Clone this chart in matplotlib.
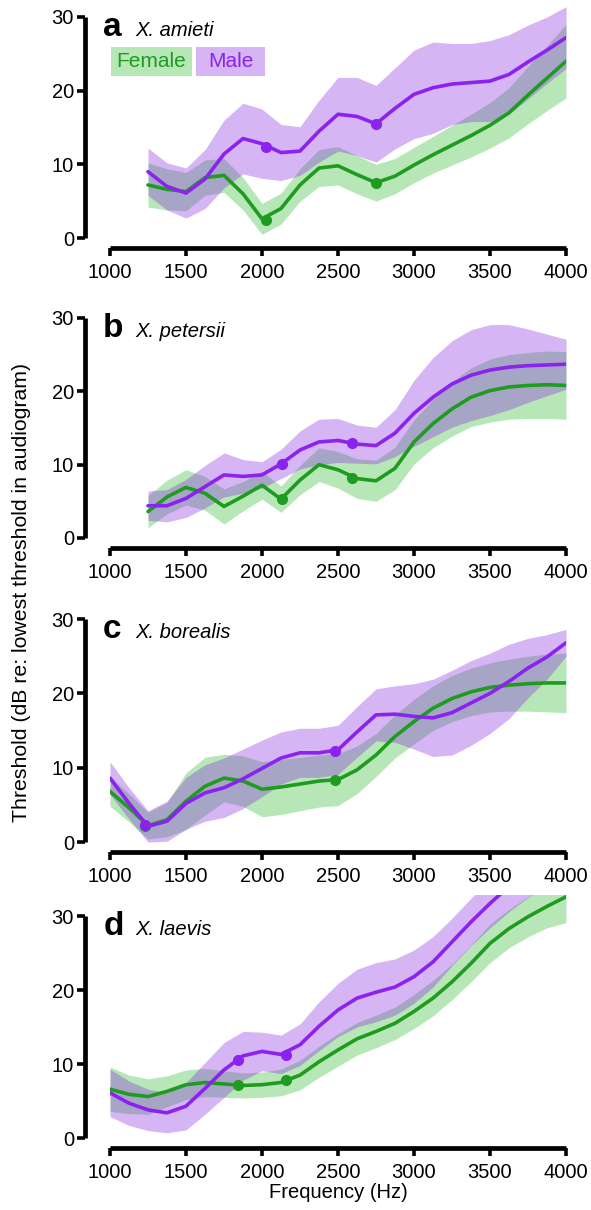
import numpy as np
import matplotlib.pyplot as plt
import matplotlib.transforms as mtransforms
from matplotlib.patches import Rectangle

plt.rcParams['font.family'] = ['Liberation Sans', 'DejaVu Sans']

# frequency grids (Hz)
freq_ab = [1250, 1375, 1500, 1625, 1750, 1875, 2000, 2125, 2250, 2375, 2500, 2625,
           2750, 2875, 3000, 3125, 3250, 3375, 3500, 3625, 3750, 3875, 4000]
freq_cd = [1000, 1125, 1250, 1375, 1500, 1625, 1750, 1875, 2000, 2125, 2250, 2375, 2500,
           2625, 2750, 2875, 3000, 3125, 3250, 3375, 3500, 3625, 3750, 3875, 4000]

# a  X. amieti
a_female = [7.2, 6.6, 6.3, 8.2, 8.5, 6.0, 2.6, 4.0, 7.2, 9.5, 9.8, 8.6,
            7.5, 8.4, 9.9, 11.3, 12.6, 13.9, 15.3, 17.0, 19.4, 21.7, 24.0]
a_female_ci = [3.0, 2.8, 2.6, 2.4, 2.3, 2.2, 2.1, 2.1, 2.2, 2.5, 2.6, 2.6,
               2.5, 2.4, 2.4, 2.5, 2.7, 2.9, 3.1, 3.4, 3.9, 4.4, 5.0]
a_male = [9.0, 7.0, 6.1, 8.0, 11.4, 13.5, 12.8, 11.6, 11.8, 14.5, 16.8, 16.5,
          15.5, 17.6, 19.5, 20.4, 20.9, 21.1, 21.3, 22.2, 23.9, 25.5, 27.2]
a_male_ci = [3.2, 3.2, 3.4, 4.0, 4.6, 4.8, 4.7, 3.8, 3.3, 4.2, 5.0, 5.3,
             5.2, 5.5, 6.0, 6.2, 5.5, 5.3, 5.5, 5.4, 5.0, 4.5, 4.2]
a_dot_freq = [2025, 2750]
a_dot_female = [2.4, 7.5]
a_dot_male = [12.4, 15.5]

# b  X. petersii
b_female = [3.6, 5.6, 6.9, 6.1, 4.3, 5.7, 7.2, 5.3, 7.9, 10.0, 9.3, 8.1,
            7.8, 9.5, 13.1, 15.6, 17.6, 19.2, 20.1, 20.6, 20.8, 20.9, 20.8]
b_female_ci = [2.2, 2.3, 2.4, 2.3, 2.4, 2.0, 1.9, 1.8, 2.0, 2.3, 2.5, 2.7,
               2.8, 2.9, 3.0, 3.3, 3.7, 4.0, 4.3, 4.4, 4.5, 4.6, 4.6]
b_male = [4.4, 4.4, 5.4, 7.0, 8.6, 8.4, 8.6, 10.1, 12.0, 13.1, 13.3, 12.8,
          12.6, 14.3, 17.0, 19.2, 21.0, 22.2, 22.9, 23.3, 23.5, 23.6, 23.7]
b_male_ci = [2.0, 2.2, 2.6, 2.9, 3.0, 2.3, 1.8, 2.0, 2.6, 3.1, 3.0, 2.6,
             2.5, 3.2, 4.5, 5.4, 5.9, 6.2, 6.2, 5.8, 5.0, 4.2, 3.4]
b_dot_freq = [2130, 2590]
b_dot_female = [5.3, 8.2]
b_dot_male = [10.1, 12.9]

# c  X. borealis
c_female = [6.8, 4.6, 2.2, 3.0, 5.5, 7.5, 8.6, 8.2, 7.1, 7.4, 7.8, 8.2, 8.4,
            9.7, 11.7, 14.2, 16.2, 18.0, 19.3, 20.2, 20.8, 21.1, 21.3, 21.4, 21.4]
c_female_ci = [2.0, 1.9, 1.8, 2.3, 3.8, 3.9, 3.2, 3.4, 3.7, 3.7, 3.6, 3.5, 3.5,
               3.2, 2.9, 2.9, 3.0, 3.0, 3.1, 3.2, 3.3, 3.5, 3.7, 3.9, 4.0]
c_male = [8.6, 5.2, 2.1, 2.8, 5.2, 6.6, 7.3, 8.5, 9.9, 11.3, 12.0, 12.0, 12.4,
          14.8, 17.1, 17.2, 16.9, 16.7, 17.4, 18.7, 20.0, 21.6, 23.4, 24.9, 26.8]
c_male_ci = [2.2, 2.1, 2.1, 2.7, 3.5, 3.8, 4.0, 4.0, 3.8, 3.5, 3.3, 3.3, 3.3,
             3.4, 3.5, 3.8, 4.4, 5.2, 5.7, 5.7, 5.4, 5.0, 4.0, 3.0, 1.8]
c_dot_freq = [1230, 2480]
c_dot_female = [2.2, 8.3]
c_dot_male = [2.3, 12.3]

# d  X. laevis
d_female = [6.6, 5.9, 5.6, 6.3, 7.2, 7.5, 7.3, 7.1, 7.2, 7.5, 8.5, 10.3, 11.9,
            13.4, 14.4, 15.5, 17.1, 18.9, 21.1, 23.6, 26.3, 28.3, 29.9, 31.3, 32.6]
d_female_ci = [3.0, 2.6, 2.4, 2.1, 2.0, 1.9, 1.8, 1.7, 1.7, 1.8, 2.0, 2.1, 2.2,
               2.2, 2.2, 2.2, 2.3, 2.4, 2.4, 2.5, 2.6, 2.6, 2.7, 2.9, 3.5]
d_male = [6.1, 4.7, 3.8, 3.4, 4.3, 6.7, 9.2, 11.1, 11.7, 11.3, 12.6, 15.1, 17.3,
          18.9, 19.7, 20.4, 21.8, 23.8, 26.5, 29.2, 31.7, 34.0, 36.0, 37.8, 39.5]
d_male_ci = [3.2, 3.0, 2.8, 2.7, 3.2, 3.5, 3.7, 3.3, 2.6, 2.6, 2.8, 3.3, 3.6,
             3.9, 4.0, 3.8, 3.6, 3.4, 3.2, 3.2, 3.3, 3.4, 3.5, 3.6, 3.7]
d_dot_freq = [1840, 2160]
d_dot_female = [7.1, 7.8]
d_dot_male = [10.6, 11.2]

letters = ['a', 'b', 'c', 'd']
species = ['X. amieti', 'X. petersii', 'X. borealis', 'X. laevis']
x_ticks = [1000, 1500, 2000, 2500, 3000, 3500, 4000]
y_ticks = [0, 10, 20, 30]

GREEN = '#1f9c1f'
PURPLE = '#8b22f0'
GREEN_FILL = '#33bb33'
PURPLE_FILL = '#8a2be2'

panels = [
    (freq_ab, a_female, a_female_ci, a_male, a_male_ci, a_dot_freq, a_dot_female, a_dot_male),
    (freq_ab, b_female, b_female_ci, b_male, b_male_ci, b_dot_freq, b_dot_female, b_dot_male),
    (freq_cd, c_female, c_female_ci, c_male, c_male_ci, c_dot_freq, c_dot_female, c_dot_male),
    (freq_cd, d_female, d_female_ci, d_male, d_male_ci, d_dot_freq, d_dot_female, d_dot_male),
]

# pixel rows of y=0 and y=30 for each panel, and top of the y-range
W, H = 591, 1210
zero_px = [238, 538, 842, 1138]
thirty_px = [17, 318, 619, 916]
y_top = [32.0, 32.0, 32.0, 32.8]
y_bot = -0.8
x_left, x_right = 110, 566

fig = plt.figure(figsize=(W / 100, H / 100), dpi=100)

for i, (fr, fm, fci, mm, mci, dfr, dfm, dmm) in enumerate(panels):
    s = (zero_px[i] - thirty_px[i]) / 30.0
    bot = zero_px[i] - y_bot * s
    top = zero_px[i] - y_top[i] * s
    ax = fig.add_axes([x_left / W, 1 - bot / H, (x_right - x_left) / W, (bot - top) / H])
    ax.set_xlim(1000, 4000)
    ax.set_ylim(y_bot, y_top[i])

    fr = np.array(fr)
    fm, fci = np.array(fm), np.array(fci)
    mm, mci = np.array(mm), np.array(mci)

    ax.fill_between(fr, fm - fci, fm + fci, color=GREEN_FILL, alpha=0.35, lw=0)
    ax.plot(fr, fm, color=GREEN, lw=2.6, solid_joinstyle='round', solid_capstyle='round')
    ax.plot(dfr, dfm, 'o', color=GREEN, ms=7)
    ax.fill_between(fr, mm - mci, mm + mci, color=PURPLE_FILL, alpha=0.35, lw=0)
    ax.plot(fr, mm, color=PURPLE, lw=2.6, solid_joinstyle='round', solid_capstyle='round')
    ax.plot(dfr, dmm, 'o', color=PURPLE, ms=7)

    for side in ['top', 'right']:
        ax.spines[side].set_visible(False)
    ax.spines['left'].set_position(('outward', 18))
    ax.spines['bottom'].set_position(('outward', 3))
    ax.spines['left'].set_bounds(0, 30)
    ax.spines['bottom'].set_bounds(1000, 4000)
    for side in ['left', 'bottom']:
        ax.spines[side].set_linewidth(3.4)
        ax.spines[side].set_capstyle('butt')
    ax.set_xticks(x_ticks)
    ax.set_yticks(y_ticks)
    ax.tick_params(length=6, width=2.6, labelsize=14.5)
    ax.tick_params(axis='x', pad=5)
    ax.tick_params(axis='y', pad=2)
    ax.patch.set_visible(False)

    trans = mtransforms.blended_transform_factory(ax.transAxes, ax.transData)
    ax.text(-0.015, 27.4, letters[i], transform=trans, fontsize=24, fontweight='bold',
            va='baseline', ha='left')
    ax.text(0.055, 27.4, species[i], transform=trans, fontsize=14.5, style='italic',
            va='baseline', ha='left')

    if i == 0:
        ax.add_patch(Rectangle((0.002, 22.0), 0.178, 3.9, transform=trans,
                               color=GREEN_FILL, alpha=0.35, lw=0, clip_on=False))
        ax.add_patch(Rectangle((0.189, 22.0), 0.151, 3.9, transform=trans,
                               color=PURPLE_FILL, alpha=0.35, lw=0, clip_on=False))
        ax.text(0.091, 23.95, 'Female', transform=trans, color=GREEN, fontsize=15,
                ha='center', va='center')
        ax.text(0.2645, 23.95, 'Male', transform=trans, color=PURPLE, fontsize=15,
                ha='center', va='center')

fig.text(338 / W, 1 - 1192 / H, 'Frequency (Hz)', fontsize=14.5, ha='center', va='center')
fig.text(22 / W, 1 - 592 / H, 'Threshold (dB re: lowest threshold in audiogram)',
         fontsize=15.3, rotation=90, ha='center', va='center')

fig.savefig('out.png', dpi=100)
